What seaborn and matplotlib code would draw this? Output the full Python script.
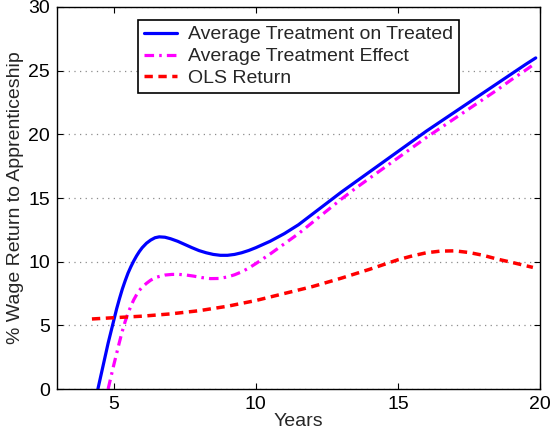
import matplotlib
matplotlib.use("Agg")
import matplotlib.pyplot as plt
import seaborn as sns

# Average Treatment on Treated
att_years = [4.44, 4.6, 4.8, 5.0, 5.1, 5.2, 5.3, 5.4, 5.5, 5.6, 5.7, 5.8, 5.9,
             6.0, 6.15, 6.3, 6.45, 6.6, 6.8, 7.0, 7.25, 7.5, 7.75, 8.0, 8.25,
             8.5, 8.75, 9.0, 9.25, 9.5, 9.75, 10.0, 10.5, 11.0, 11.5, 12.0,
             12.5, 13.0, 13.5, 14.0, 14.5, 15.0, 15.5, 16.0, 16.5, 17.0,
             17.5, 18.0, 18.5, 19.0, 19.5, 19.85]
att_return = [0.0, 1.6, 3.6, 5.4, 6.3, 7.1, 7.85, 8.5, 9.1, 9.6, 10.05, 10.45,
              10.8, 11.1, 11.45, 11.7, 11.88, 11.95, 11.92, 11.8, 11.6, 11.35,
              11.1, 10.87, 10.7, 10.57, 10.5, 10.5, 10.57, 10.7, 10.88, 11.1,
              11.6, 12.2, 12.9, 13.75, 14.6, 15.45, 16.25, 17.05, 17.85,
              18.65, 19.45, 20.25, 21.0, 21.75, 22.5, 23.25, 24.0, 24.75,
              25.5, 26.0]

# Average Treatment Effect
ate_years = [4.8, 4.9, 5.0, 5.1, 5.2, 5.3, 5.4, 5.5, 5.6, 5.7, 5.8, 5.9, 6.0,
             6.15, 6.3, 6.5, 6.8, 7.05, 7.3, 7.55, 7.8, 8.1, 8.4, 8.7, 9.0,
             9.25, 9.5, 9.75, 10.0, 10.5, 11.0, 11.5, 12.0, 12.5, 13.0, 13.5,
             14.0, 14.5, 15.0, 15.5, 16.0, 16.5, 17.0, 17.5, 18.0, 18.5,
             19.0, 19.5, 19.85]
ate_return = [0.0, 0.95, 1.9, 2.8, 3.7, 4.55, 5.3, 5.95, 6.5, 7.0, 7.4, 7.75,
              8.0, 8.3, 8.55, 8.78, 8.95, 9.0, 9.0, 8.95, 8.87, 8.75, 8.67,
              8.68, 8.8, 8.97, 9.2, 9.5, 9.85, 10.6, 11.4, 12.2, 13.1, 14.0,
              14.9, 15.75, 16.55, 17.35, 18.15, 18.95, 19.75, 20.5, 21.25,
              22.0, 22.75, 23.5, 24.3, 25.05, 25.6]

# OLS Return
ols_years = [4.23, 5.0, 6.0, 7.0, 8.0, 9.0, 10.0, 11.0, 12.0, 13.0, 14.0,
             15.0, 15.5, 16.0, 16.5, 17.0, 17.5, 18.0, 18.5, 19.0, 19.75]
ols_return = [5.5, 5.6, 5.72, 5.9, 6.15, 6.5, 6.95, 7.5, 8.05, 8.7, 9.4,
              10.15, 10.45, 10.7, 10.83, 10.85, 10.72, 10.5, 10.2, 9.95, 9.55]

x_ticks = [5, 10, 15, 20]
y_ticks = [0, 5, 10, 15, 20, 25, 30]

sns.set_style("ticks")
plt.rcParams["font.family"] = ["Liberation Sans", "DejaVu Sans"]
plt.rcParams["font.size"] = 14

fig = plt.figure(figsize=(5.5, 4.37), dpi=100)
ax = fig.add_axes([0.1036, 0.1098, 0.8782, 0.8742])

sns.lineplot(x=att_years, y=att_return, ax=ax, color="#0000ff", lw=2.3,
             label="Average Treatment on Treated")
sns.lineplot(x=ate_years, y=ate_return, ax=ax, color="#ff00ff", lw=2.3,
             linestyle=(0, (3.0, 1.6, 0.8, 1.6)),
             label="Average Treatment Effect")
sns.lineplot(x=ols_years, y=ols_return, ax=ax, color="#ff0000", lw=2.5,
             linestyle=(0, (2.4, 1.6)), label="OLS Return")

ax.set_xlim(3, 20)
ax.set_ylim(0, 30)
ax.set_xticks(x_ticks)
ax.set_yticks(y_ticks)
ax.yaxis.grid(True, color="#8c8c8c", linestyle=(0, (1, 3.5)), lw=0.9)
ax.xaxis.grid(False)
ax.tick_params(direction="in", length=4, width=0.8, top=True, right=True,
               labelsize=14, pad=5, colors="black")
for s in ax.spines.values():
    s.set_visible(True)
    s.set_color("black")
    s.set_linewidth(1.0)

ax.set_xlabel("Years", fontsize=14, labelpad=0)
ax.set_ylabel("% Wage Return to Apprenticeship", fontsize=14, labelpad=3)

leg = ax.legend(loc="upper center", bbox_to_anchor=(0.5, 0.966), fontsize=14,
                frameon=True, fancybox=False, framealpha=1, edgecolor="black",
                handlelength=1.7, handletextpad=0.55, labelspacing=0.22,
                borderpad=0.3, borderaxespad=0)
leg.get_frame().set_linewidth(1.2)

fig.savefig("out.png", dpi=100)
